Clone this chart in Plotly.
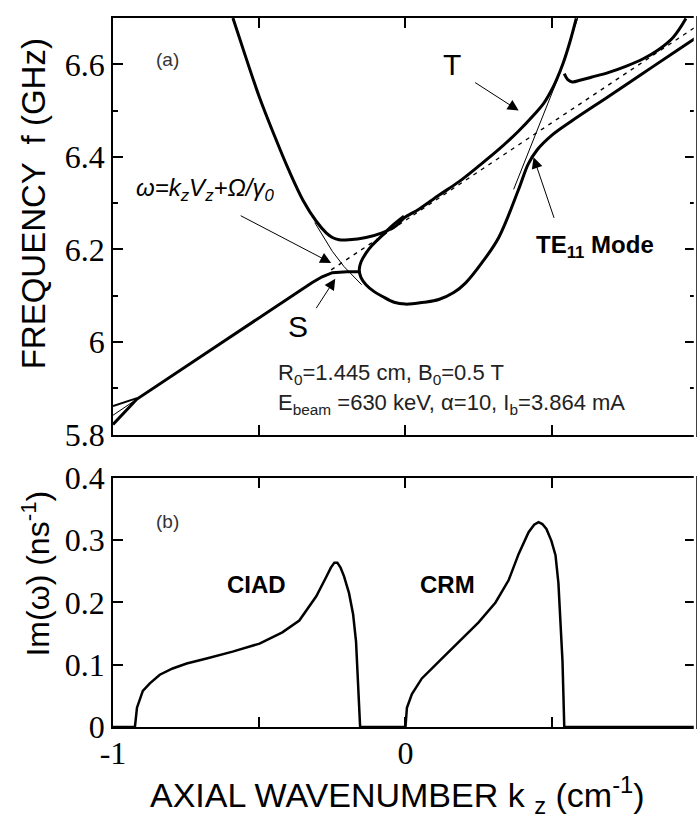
import plotly.graph_objects as go

# ---------------- data ----------------
# (a) real frequency branches, k in cm^-1, f in GHz
u_k = [-0.59, -0.55, -0.50, -0.45, -0.40, -0.35, -0.305, -0.271, -0.25, -0.227, -0.193, -0.135,
       -0.080, -0.032, -0.005, 0.046, 0.114, 0.182, 0.250, 0.319, 0.387, 0.438, 0.472, 0.496,
       0.516, 0.540, 0.564, 0.584]
u_f = [6.700, 6.623, 6.530, 6.449, 6.373, 6.306, 6.261, 6.236, 6.226, 6.221, 6.221, 6.226,
       6.236, 6.251, 6.268, 6.287, 6.317, 6.346, 6.380, 6.416, 6.456, 6.490, 6.515, 6.540,
       6.566, 6.604, 6.652, 6.699]

loop_k = [-0.005, -0.046, -0.080, -0.114, -0.135, -0.152, -0.158, -0.152, -0.135, -0.107, -0.080,
          -0.039, 0.0, 0.063, 0.114, 0.165, 0.206, 0.261, 0.319, 0.387, 0.420, 0.450, 0.499,
          0.567, 0.693, 0.806, 0.922, 0.99]
loop_f = [6.272, 6.251, 6.230, 6.209, 6.192, 6.173, 6.156, 6.139, 6.124, 6.109, 6.099,
          6.086, 6.082, 6.086, 6.092, 6.107, 6.128, 6.171, 6.226, 6.330, 6.385, 6.415, 6.446,
          6.477, 6.530, 6.578, 6.627, 6.656]

ur_k = [0.543, 0.555, 0.570, 0.600, 0.635, 0.693, 0.751, 0.813, 0.864, 0.915, 0.959]
ur_f = [6.580, 6.567, 6.562, 6.566, 6.572, 6.582, 6.595, 6.612, 6.631, 6.658, 6.699]

ll_k = [-1.0, -0.918, -0.635, -0.363, -0.32, -0.285, -0.25, -0.20, -0.158]
ll_f = [5.822, 5.877, 5.996, 6.111, 6.128, 6.141, 6.150, 6.152, 6.152]

ul_k = [-1.0, -0.918]
ul_f = [5.862, 5.879]

beam_k = [-0.254, 0.99]
beam_f = [6.156, 6.680]
beam_left_k = [-1.0, -0.918]
beam_left_f = [5.842, 5.877]

wg_left_k = [-0.31, -0.25, -0.21, -0.15]
wg_left_f = [6.258, 6.196, 6.163, 6.124]
wg_right_k = [0.37, 0.45, 0.52, 0.589]
wg_right_f = [6.330, 6.455, 6.568, 6.700]

# (b) growth rate Im(omega), ns^-1
im_k = [-1.0, -0.925, -0.918, -0.898, -0.874, -0.840, -0.796, -0.748, -0.680, -0.591, -0.499,
        -0.421, -0.363, -0.305, -0.271, -0.255, -0.243, -0.233, -0.222, -0.210, -0.193, -0.179,
        -0.169, -0.162, -0.155, 0.0, 0.005, 0.022, 0.056, 0.114, 0.182, 0.250, 0.308, 0.353,
        0.387, 0.421, 0.440, 0.455, 0.468, 0.482, 0.499, 0.513, 0.523, 0.530, 0.537, 0.540,
        0.543, 0.99]
im_v = [0, 0, 0.031, 0.058, 0.070, 0.084, 0.094, 0.102, 0.110, 0.121, 0.134,
        0.152, 0.171, 0.210, 0.241, 0.256, 0.264, 0.264, 0.256, 0.242, 0.215, 0.181,
        0.137, 0.074, 0, 0, 0.031, 0.053, 0.078, 0.105, 0.137, 0.168, 0.200, 0.236,
        0.278, 0.313, 0.325, 0.329, 0.326, 0.318, 0.299, 0.276, 0.231, 0.168, 0.105, 0.053,
        0, 0]

f_ticks = [5.8, 6.0, 6.2, 6.4, 6.6]
f_ticktext = ["5.8", "6", "6.2", "6.4", "6.6"]
f_minor = [5.9, 6.1, 6.3, 6.5]
im_ticks = [0, 0.1, 0.2, 0.3, 0.4]
im_ticktext = ["0", "0.1", "0.2", "0.3", "0.4"]
k_ticks = [-1, -0.5, 0, 0.5]
k_ticktext = ["-1", "", "0", ""]

# ---------------- figure ----------------
fig = go.Figure()

def add(xs, ys, width, dash="solid", xa="x", ya="y", shape="linear"):
    fig.add_trace(go.Scatter(x=xs, y=ys, mode="lines", xaxis=xa, yaxis=ya,
                             line=dict(color="black", width=width, dash=dash, shape=shape),
                             hoverinfo="skip", showlegend=False))

add(wg_left_k, wg_left_f, 1)
add(wg_right_k, wg_right_f, 1)
add(beam_k, beam_f, 1.3, dash="4px,5px")
add(beam_left_k, beam_left_f, 1)
add(u_k, u_f, 3, shape="spline")
add(loop_k, loop_f, 3, shape="spline")
add(ur_k, ur_f, 3, shape="spline")
add(ll_k, ll_f, 3)
add(ul_k, ul_f, 2)
add(im_k, im_v, 2.5, xa="x2", ya="y2")

W, H = 697, 824
L, R, T, B = 113, 0, 3, 97
pw, ph = W - L - R, H - T - B

def px(x):
    return (x - L) / pw

def py(y):
    return (H - B - y) / ph

axis_common = dict(showline=True, linecolor="black", linewidth=1.5, mirror="ticks",
                   ticks="inside", ticklen=10, tickwidth=1.5, tickcolor="black",
                   showgrid=False, zeroline=False,
                   tickfont=dict(family="Liberation Serif", size=32, color="black"))

fig.update_layout(
    width=W, height=H,
    margin=dict(l=L, r=R, t=T, b=B, pad=0),
    paper_bgcolor="white", plot_bgcolor="white",
    xaxis=dict(domain=[0, 1], anchor="y", range=[-1, 0.99], tickmode="array",
               tickvals=k_ticks[1:], showticklabels=False, **axis_common),
    yaxis=dict(domain=[py(428.5), 1], anchor="x", range=[5.8, 6.7], tickmode="array",
               tickvals=f_ticks, ticktext=f_ticktext,
               minor=dict(tickvals=f_minor, ticks="inside", ticklen=5, tickwidth=1.5,
                          tickcolor="black"),
               **axis_common),
    xaxis2=dict(domain=[0, 1], anchor="y2", range=[-1, 0.99], tickmode="array",
                tickvals=k_ticks, ticktext=k_ticktext, ticklabelstandoff=-3, **axis_common),
    yaxis2=dict(domain=[0, py(472.7)], anchor="x2", range=[0, 0.4], tickmode="array",
                tickvals=im_ticks, ticktext=im_ticktext, **axis_common),
    shapes=[dict(type="line", xref="paper", yref="paper", x0=1, x1=1, y0=-0.01, y1=1.01,
                 line=dict(color="white", width=2.5), layer="above")],
)

sans = "Liberation Sans"
ann = []

def text(x, y, s, size, bold=False, italic=False, xanchor="center", angle=0, color="black"):
    if bold:
        s = "<b>" + s + "</b>"
    if italic:
        s = "<i>" + s + "</i>"
    ann.append(dict(xref="paper", yref="paper", x=px(x), y=py(y), text=s, showarrow=False,
                    xanchor=xanchor, yanchor="middle", textangle=angle,
                    font=dict(family=sans, size=size, color=color)))

text(33, 193, "FREQUENCY  f (GHz)", 33, angle=-90)
text(36, 570, "Im(ω) (ns<sup>-1</sup>)", 32, angle=-90)
text(398, 796, "AXIAL WAVENUMBER k <sub>z</sub> (cm<sup>-1</sup>)", 34)
text(168, 45, "(a)", 19, color="#333")
text(168, 517, "(b)", 19, color="#333")
text(453, 50, "T", 30)
text(299, 318, "S", 30)
text(205, 178, "ω=k<sub>z</sub>V<sub>z</sub>+Ω/γ<sub>0</sub>", 24, italic=True)
text(597, 236, "TE<sub>11</sub> Mode", 24, bold=True)
text(277, 367, "R<sub>0</sub>=1.445 cm, B<sub>0</sub>=0.5 T", 22, xanchor="left", color="#222")
text(277, 397, "E<sub>beam</sub> =630 keV, α=10, I<sub>b</sub>=3.864 mA", 22, xanchor="left",
     color="#222")
text(257, 581, "CIAD", 24, bold=True)
text(449, 581, "CRM", 24, bold=True)

def arrow(xk, yf, ax, ay):
    ann.append(dict(xref="x", yref="y", x=xk, y=yf, ax=ax, ay=ay, text="", showarrow=True,
                    arrowhead=2, arrowsize=2.2, arrowwidth=1, arrowcolor="black",
                    standoff=0, startstandoff=0))

arrow(0.387, 6.500, -45, -29)     # T
arrow(-0.254, 6.171, -92, -48)    # omega = kz Vz + Omega/gamma0
arrow(-0.240, 6.137, -20, 31)     # S
arrow(0.438, 6.399, 21, 62)       # TE11 mode

fig.update_layout(annotations=ann)
fig.write_html("out.html")
